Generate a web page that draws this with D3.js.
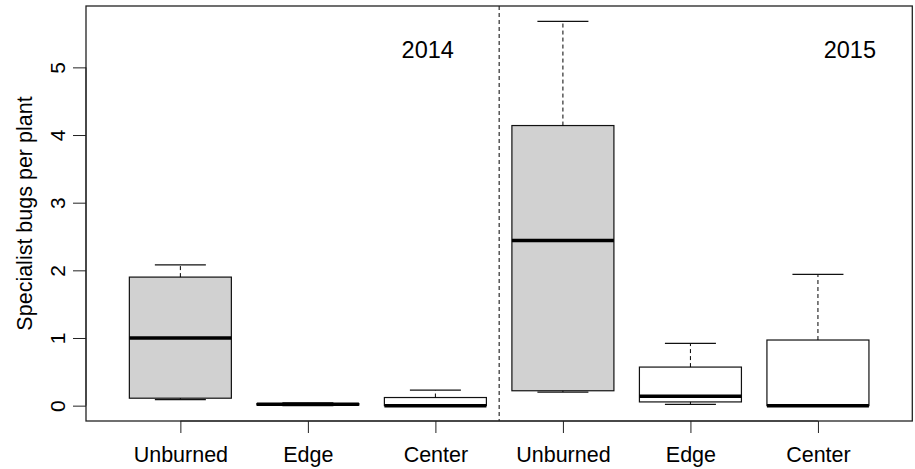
<!DOCTYPE html>
<html>
<head>
<meta charset="utf-8">
<script src="https://cdn.jsdelivr.net/npm/d3@7"></script>
<style>
  html, body { margin: 0; padding: 0; background: #fff; }
  svg { display: block; font-family: "Liberation Sans", Arial, Helvetica, sans-serif; }
</style>
</head>
<body>
<svg id="chart"></svg>
<script>
// Box summaries, one entry per box (2014: 3 boxes, then 2015: 3 boxes)
const groups = ["Unburned", "Edge", "Center", "Unburned", "Edge", "Center"];
const whiskerLow = [0.09, 0.00, 0.00, 0.20, 0.02, 0.00];
const q1 = [0.11, 0.01, 0.00, 0.22, 0.055, 0.00];
const median = [1.00, 0.02, 0.00, 2.44, 0.14, 0.00];
const q3 = [1.90, 0.03, 0.12, 4.14, 0.57, 0.97];
const whiskerHigh = [2.08, 0.04, 0.23, 5.68, 0.92, 1.94];

const yTicks = [0, 1, 2, 3, 4, 5];
const years = ["2014", "2015"];
const yearPosX = [2.94, 6.25]; // where the year labels sit, in box units
const yearPosY = 5.26;
const splitAt = 3.5; // dashed separator between years

const width = 915, height = 469;
const svg = d3.select("#chart").attr("width", width).attr("height", height);

//R-like extended ranges
const x = d3.scaleLinear().domain([0.26, 6.74]).range([86, 912.3]);
const y = d3.scaleLinear().domain([-0.227, 5.907]).range([421, 6]);

const boxes = groups.map((g, i) => ({
  pos: i + 1,
  group: g,
  lo: whiskerLow[i], q1: q1[i], med: median[i], q3: q3[i], hi: whiskerHigh[i]
}));

const halfBox = 0.4, halfCap = 0.2;

//Separator line
svg.append("line")
  .attr("x1", x(splitAt)).attr("x2", x(splitAt))
  .attr("y1", y.range()[1]).attr("y2", y.range()[0])
  .attr("stroke", "#000").attr("stroke-width", 1)
  .attr("stroke-dasharray", "4,3");

const bg = svg.append("g").selectAll("g.box")
  .data(boxes)
  .enter()
  .append("g")
  .classed("box", true);

//Box body
bg.append("rect")
  .attr("x", d => x(d.pos - halfBox))
  .attr("width", d => x(d.pos + halfBox) - x(d.pos - halfBox))
  .attr("y", d => y(d.q3))
  .attr("height", d => Math.max(0.5, y(d.q1) - y(d.q3)))
  .attr("fill", d => d.group === "Unburned" ? "#d1d1d1" : "#fff")
  .attr("stroke", "#111")
  .attr("stroke-width", 1.2);

//Whiskers (dashed)
bg.append("line")
  .attr("x1", d => x(d.pos)).attr("x2", d => x(d.pos))
  .attr("y1", d => y(d.q3)).attr("y2", d => y(d.hi))
  .attr("stroke", "#000").attr("stroke-dasharray", "4,3");
bg.append("line")
  .attr("x1", d => x(d.pos)).attr("x2", d => x(d.pos))
  .attr("y1", d => y(d.q1)).attr("y2", d => y(d.lo))
  .attr("stroke", "#000").attr("stroke-dasharray", "4,3");

//Staples
bg.append("line")
  .attr("x1", d => x(d.pos - halfCap)).attr("x2", d => x(d.pos + halfCap))
  .attr("y1", d => y(d.hi)).attr("y2", d => y(d.hi))
  .attr("stroke", "#111").attr("stroke-width", 1.2);
bg.append("line")
  .attr("x1", d => x(d.pos - halfCap)).attr("x2", d => x(d.pos + halfCap))
  .attr("y1", d => y(d.lo)).attr("y2", d => y(d.lo))
  .attr("stroke", "#111").attr("stroke-width", 1.2);

//Median (thick)
bg.append("line")
  .attr("x1", d => x(d.pos - halfBox)).attr("x2", d => x(d.pos + halfBox))
  .attr("y1", d => y(d.med)).attr("y2", d => y(d.med))
  .attr("stroke", "#000").attr("stroke-width", 3.5);

//Frame
svg.append("rect")
  .attr("x", x.range()[0]).attr("y", y.range()[1])
  .attr("width", x.range()[1] - x.range()[0])
  .attr("height", y.range()[0] - y.range()[1])
  .attr("fill", "none").attr("stroke", "#222").attr("stroke-width", 1.3);

//Y axis
const yAxis = svg.append("g")
  .attr("transform", `translate(${x.range()[0]},0)`)
  .call(d3.axisLeft(y).tickValues(yTicks).tickSize(13).tickSizeOuter(0).tickFormat(d3.format("d")));
yAxis.select(".domain").attr("d", `M0,${y(yTicks[0])}V${y(yTicks[yTicks.length - 1])}`).attr("stroke", "#222");
yAxis.selectAll(".tick line").attr("stroke", "#222");
yAxis.selectAll(".tick text")
  .attr("x", null).attr("dy", null)
  .attr("transform", "translate(-29,0) rotate(-90)")
  .attr("text-anchor", "middle")
  .attr("dominant-baseline", "central")
  .attr("fill", "#000")
  .style("font-size", "21px");

//X axis
const xAxis = svg.append("g")
  .attr("transform", `translate(0,${y.range()[0]})`)
  .call(d3.axisBottom(x).tickValues(boxes.map(d => d.pos)).tickSize(12).tickSizeOuter(0)
    .tickFormat((d, i) => groups[i]));
xAxis.select(".domain").attr("d", `M${x(1)},0H${x(6)}`).attr("stroke", "#222");
xAxis.selectAll(".tick line").attr("stroke", "#222");
xAxis.selectAll(".tick text")
  .attr("y", 41).attr("dy", null)
  .attr("fill", "#000")
  .style("font-size", "21.5px");

//Axis title
svg.append("text")
  .attr("transform", `translate(25,${(y.range()[0] + y.range()[1]) / 2}) rotate(-90)`)
  .attr("text-anchor", "middle")
  .attr("dominant-baseline", "central")
  .style("font-size", "21.5px")
  .text("Specialist bugs per plant");

//Year labels
svg.selectAll("text.year")
  .data(years)
  .enter()
  .append("text")
  .classed("year", true)
  .attr("x", (d, i) => x(yearPosX[i]))
  .attr("y", y(yearPosY))
  .attr("text-anchor", "middle")
  .attr("dominant-baseline", "central")
  .style("font-size", "23.5px")
  .text(d => d);
</script>
</body>
</html>
